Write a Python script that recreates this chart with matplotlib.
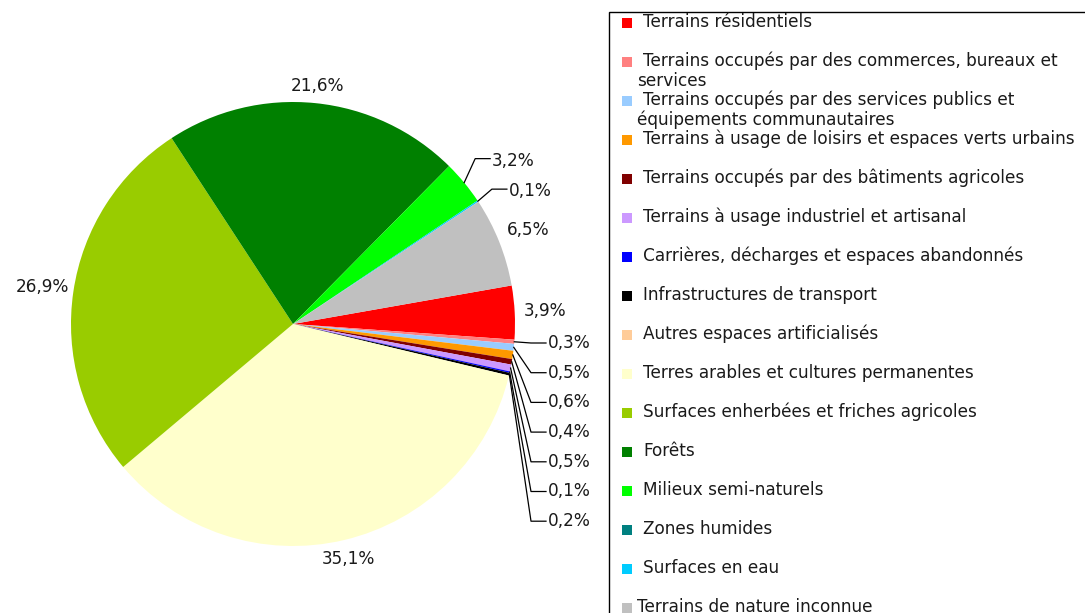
import numpy as np
import matplotlib.pyplot as plt
from matplotlib.patches import Rectangle

# occupation du sol, en %
categories = [
    "Terrains résidentiels",
    "Terrains occupés par des commerces, bureaux et\nservices",
    "Terrains occupés par des services publics et\néquipements communautaires",
    "Terrains à usage de loisirs et espaces verts urbains",
    "Terrains occupés par des bâtiments agricoles",
    "Terrains à usage industriel et artisanal",
    "Carrières, décharges et espaces abandonnés",
    "Infrastructures de transport",
    "Autres espaces artificialisés",
    "Terres arables et cultures permanentes",
    "Surfaces enherbées et friches agricoles",
    "Forêts",
    "Milieux semi-naturels",
    "Zones humides",
    "Surfaces en eau",
    "Terrains de nature inconnue",
]
values = [3.9, 0.3, 0.5, 0.6, 0.4, 0.5, 0.1, 0.2, 0.0,
          35.1, 26.9, 21.6, 3.2, 0.0, 0.1, 6.5]
colors = ["#FF0000", "#FF8080", "#99CCFF", "#FF9900", "#800000", "#CC99FF",
          "#0000FF", "#000000", "#FFCC99", "#FFFFCC", "#99CC00", "#008000",
          "#00FF00", "#008080", "#00CCFF", "#C0C0C0"]

W, H = 1085, 613
fig = plt.figure(figsize=(W / 100, H / 100), dpi=100)
ax = fig.add_axes([0, 0, 1, 1])

cx, cy, R = 293, H - 324, 222
wedges, _ = ax.pie(values, colors=colors, startangle=10, counterclock=False,
                   center=(cx, cy), radius=R, wedgeprops=dict(linewidth=0))
ax.set_xlim(0, W)
ax.set_ylim(0, H)
ax.set_aspect("equal")
ax.axis("off")

fs = 12.2
txt = "#1a1a1a"


def fmt(v):
    return f"{v:.1f}%".replace(".", ",")


stacked = [1, 2, 3, 4, 5, 6, 7]          # petites parts empilées à droite
top_leaders = {12: (11, 24), 14: (14, 12)}  # décalage du coude (px)

for i, (w, v) in enumerate(zip(wedges, values)):
    if v <= 0:
        continue
    a = np.deg2rad((w.theta1 + w.theta2) / 2)
    ux, uy = np.cos(a), np.sin(a)
    ex, ey = cx + R * ux, cy + R * uy
    if i in stacked:
        k = stacked.index(i)
        lx, ly = 548, H - (343 + k * 29.7)
        ax.plot([ex, lx - 17, lx - 2], [ey, ly, ly], color="black", lw=0.9)
        ax.text(lx, ly, fmt(v), ha="left", va="center", fontsize=fs, color=txt)
    elif i in top_leaders:
        dx, dy = top_leaders[i]
        bx, by = ex + dx, ey + dy
        ax.plot([ex, bx, bx + 15], [ey, by, by], color="black", lw=0.9)
        ax.text(bx + 17, by - 2, fmt(v), ha="left", va="center", fontsize=fs, color=txt)
    else:
        d = R + 8 + 22 * abs(ux) + 7 * abs(uy)
        ax.text(cx + d * ux, cy + d * uy, fmt(v), ha="center", va="center",
                fontsize=fs, color=txt)

# légende dessinée à la main (cadre coupé par le bord de l'image)
ax.add_patch(Rectangle((608.5, -50), 600, H - 12 + 50, fill=False,
                       edgecolor="black", lw=1, clip_on=False))
for k, (lab, col) in enumerate(zip(categories, colors)):
    y = H - (22 + 39 * k)
    ax.add_patch(Rectangle((622, y - 6), 10, 10, facecolor=col, edgecolor="none"))
    lines = lab.split("\n")
    x0 = 637 if k == len(categories) - 1 else 643
    ax.text(x0, y, lines[0], ha="left", va="center", fontsize=fs, color=txt)
    for j, extra in enumerate(lines[1:], start=1):
        ax.text(637, y - 20 * j, extra, ha="left", va="center", fontsize=fs, color=txt)

fig.savefig("out.png", dpi=100)
